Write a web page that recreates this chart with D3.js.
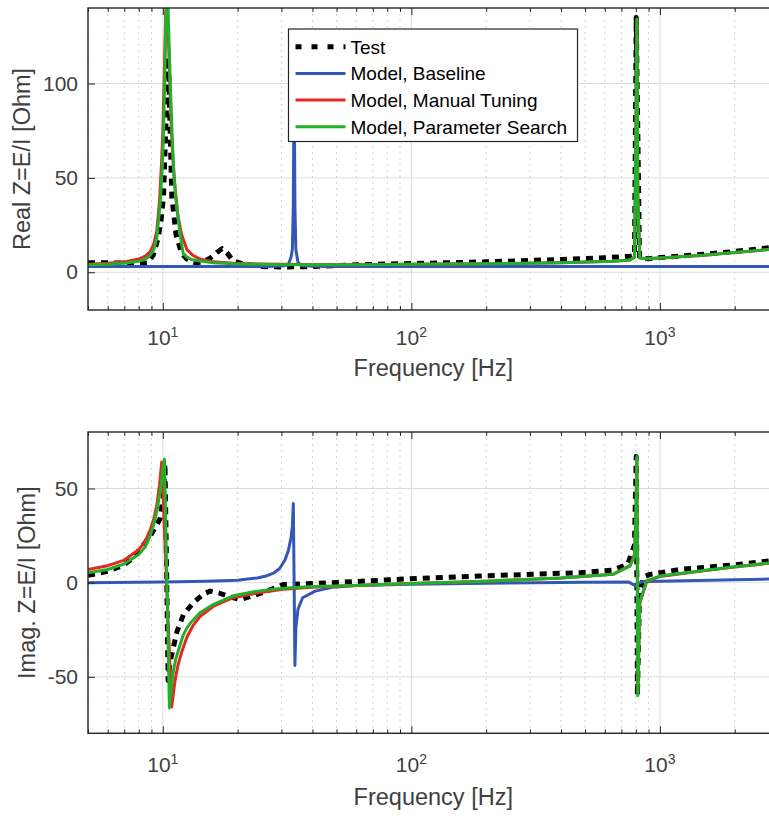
<!DOCTYPE html>
<html>
<head>
<meta charset="utf-8">
<script src="https://cdn.jsdelivr.net/npm/d3@7"></script>
<style>
  body { margin: 0; background: #fff; }
  svg { display: block; font-family: "Liberation Sans", Arial, Helvetica, sans-serif; }
</style>
</head>
<body>
<svg id="chart" width="769" height="816"></svg>
<script>
// ---- data ----
const freqMajor = [10, 100, 1000];
const realTicks = [0, 50, 100];
const imagTicks = [-50, 0, 50];
const legendLabels = ["Test", "Model, Baseline", "Model, Manual Tuning", "Model, Parameter Search"];

const testFreqRe = [5, 6, 7, 8, 8.7, 9.14, 9.57, 9.85, 10.06, 10.3, 10.53, 10.7, 10.87, 11.3, 11.9, 12.5, 13.5, 14.5, 15.5, 16.5, 17.3, 18.2, 19.2, 21, 25, 30, 40, 60, 100, 200, 400, 600, 760, 790, 803, 828, 900, 1000, 1500, 2000, 3000];
const testRe = [5, 5, 4.8, 4.5, 5, 9, 18, 28, 40, 80, 114, 75, 40, 20, 10, 7, 5, 5.5, 7.5, 10.5, 12.5, 10, 6, 4.5, 3, 2.8, 3, 4, 4.6, 5.5, 6.8, 7.7, 8.5, 9, 135, 7.5, 7.2, 7.8, 9.5, 11, 13.5];
const testFreqIm = [5, 6, 7, 7.4, 8.1, 8.89, 9.3, 9.75, 10.06, 10.2, 10.35, 10.5, 10.7, 11.4, 12.1, 13.3, 14.6, 15.5, 16.8, 18.1, 20.4, 23, 26.2, 30.5, 48.5, 90, 189, 477, 647, 742, 790, 803, 812, 828, 860, 912, 1204, 2000, 3000];
const testIm = [3.9, 6, 9.5, 12, 17.7, 24.8, 29, 34, 46, 63, 10, -52, -42, -26, -17, -10.5, -6, -4.5, -5.5, -7, -9, -7, -4.5, -1, 0, 1.8, 3.5, 5.3, 6.7, 9.7, 20, 67, -60, -5, 3, 4.4, 7, 9.5, 12];

const baseFreq = [5, 10, 15, 20, 24, 26, 28, 29.5, 31, 32, 32.8, 33.2, 33.5, 33.75, 34.0, 34.3, 35, 36.5, 41, 48, 60, 100, 200, 500, 750, 800, 815, 850, 1000, 2000, 3000];
const baseRe = [3, 3, 3, 3, 3.05, 3.1, 3.2, 3.3, 3.5, 4.2, 8, 12, 35, 110, 35, 12, 5, 3.5, 3.2, 3.1, 3, 3, 3, 3, 3, 3, 3, 3, 3, 3, 3];
const baseIm = [0, 0.3, 0.7, 1.3, 2.5, 3.5, 5.2, 7.5, 12, 17, 24, 30, 42, 0, -44, -24, -14, -8, -4.5, -2.5, -1.5, -0.8, -0.3, 0.2, 0.3, -1.8, -0.5, 0.6, 0.8, 1.5, 2];

const manualFreq = [5, 6, 7, 8, 8.5, 8.9, 9.2, 9.46, 9.7, 9.9, 10.0, 10.2, 10.35, 10.5, 10.7, 10.85, 11.0, 11.2, 11.5, 11.9, 12.5, 13.2, 14.1, 16, 19.2, 24, 30.5, 40, 60, 100, 200, 400, 647, 757, 790, 800, 808, 815, 830, 884, 1000, 1500, 2000, 3000];
const manualRe = [4.3, 4.8, 5.5, 7, 8.5, 11, 15, 22, 38, 60, 75, 120, 155, 130, 95, 73, 58, 45, 30, 20, 12, 9, 7, 5.5, 4.8, 4.4, 4.2, 4, 4, 4.2, 4.5, 5, 5.8, 6.5, 8, 70, 134, 40, 7.5, 7.2, 7.5, 9, 10.5, 12.5];
const manualIm = [7, 9, 12, 17.5, 22, 28, 34, 41, 52, 64, 50, 22, 1, -20, -46, -66, -60, -52, -44, -37, -29, -23, -18, -12.5, -8, -5.5, -3.5, -2.5, -1.5, -0.5, 0.8, 2.5, 4.4, 9, 15, 35, 66, -58, -11, 0.5, 3.3, 6.3, 8.3, 10.8];

const searchFreq = [5, 6, 7, 8, 8.5, 8.9, 9.2, 9.46, 9.75, 9.95, 10.06, 10.15, 10.25, 10.4, 10.55, 10.63, 10.75, 10.9, 11.1, 11.3, 11.74, 12.07, 12.5, 13, 14.1, 16, 19.2, 24, 30.5, 40, 60, 100, 200, 400, 647, 757, 790, 800, 808, 815, 830, 884, 1000, 1500, 2000, 3000];
const searchRe = [4.0, 4.3, 4.8, 5.8, 6.8, 9, 12, 18, 36, 55, 73, 95, 125, 155, 130, 115, 95, 73, 50, 38, 20, 10, 8, 6.8, 6, 5, 4.5, 4.2, 4, 4, 4, 4.2, 4.5, 5, 5.8, 6.5, 8, 70, 134, 40, 7.5, 7.2, 7.5, 9, 10.5, 12.5];
const searchIm = [5.3, 7, 10, 15, 19, 25, 31, 38, 48, 57, 63, 65.5, 37.5, -4, -45, -66.5, -60, -52, -45, -40, -33, -28, -24, -21, -16, -11.5, -7, -4.5, -3, -2, -1.5, -0.5, 0.8, 2.5, 4.4, 8.8, 14, 35, 67, -60, -10, 1, 3.5, 6.5, 8.5, 11];

// ---- layout ----
const ink = "#262626";
const textInk = "#404040";
const styles = [
  { color: "#000", width: 5, dash: "7,6" },
  { color: "#3457b5", width: 3, dash: null },
  { color: "#e4281f", width: 3, dash: null },
  { color: "#22b02b", width: 3, dash: null }
];

const svg = d3.select("#chart");
const x = d3.scaleLog().domain([5, 3000]).range([88, 778.5]);
const minorX = x.ticks().filter(v => !freqMajor.includes(v));

function drawPanel(p) {
  const y = d3.scaleLinear().domain(p.yDomain).range([p.bottom, p.top]);
  const [x0, x1] = x.range();
  const g = svg.append("g");

  svg.append("clipPath").attr("id", "clip-" + p.name)
    .append("rect").attr("x", x0).attr("y", p.top)
    .attr("width", x1 - x0).attr("height", p.bottom - p.top);

  // grid
  g.append("g").selectAll("line").data(minorX).join("line")
    .attr("x1", d => x(d)).attr("x2", d => x(d))
    .attr("y1", p.top).attr("y2", p.bottom)
    .attr("stroke", "#c2c2c2").attr("stroke-dasharray", "1.5,4.5");
  g.append("g").selectAll("line").data(freqMajor).join("line")
    .attr("x1", d => x(d)).attr("x2", d => x(d))
    .attr("y1", p.top).attr("y2", p.bottom)
    .attr("stroke", "#dcdcdc");
  g.append("g").selectAll("line").data(p.yTicks).join("line")
    .attr("x1", x0).attr("x2", x1)
    .attr("y1", d => y(d)).attr("y2", d => y(d))
    .attr("stroke", "#dcdcdc");

  // curves
  const line = d3.line().x(d => x(d[0])).y(d => y(d[1]));
  const curves = g.append("g").attr("clip-path", `url(#clip-${p.name})`);
  p.series.forEach((s, i) => {
    const st = styles[i];
    curves.append("path")
      .datum(d3.zip(s.f, s.v))
      .attr("d", line)
      .attr("fill", "none")
      .attr("stroke", st.color)
      .attr("stroke-width", st.width)
      .attr("stroke-dasharray", st.dash)
      .attr("stroke-linejoin", "round");
  });

  // frame and ticks
  g.append("rect").attr("x", x0).attr("y", p.top)
    .attr("width", x1 - x0).attr("height", p.bottom - p.top)
    .attr("fill", "none").attr("stroke", ink).attr("stroke-width", 1.4);

  const tickStyle = sel => {
    sel.select(".domain").remove();
    sel.selectAll("line").attr("stroke", ink);
    sel.selectAll("text").attr("fill", textInk).attr("font-size", 21);
  };
  g.append("g").attr("transform", `translate(0,${p.bottom})`)
    .call(d3.axisBottom(x).tickValues(freqMajor).tickSize(-7).tickFormat("")).call(tickStyle);
  g.append("g").attr("transform", `translate(0,${p.bottom})`)
    .call(d3.axisBottom(x).tickValues(minorX).tickSize(-4).tickFormat("")).call(tickStyle);
  g.append("g").attr("transform", `translate(0,${p.top})`)
    .call(d3.axisTop(x).tickValues(freqMajor).tickSize(-7).tickFormat("")).call(tickStyle);
  g.append("g").attr("transform", `translate(0,${p.top})`)
    .call(d3.axisTop(x).tickValues(minorX).tickSize(-4).tickFormat("")).call(tickStyle);
  g.append("g").attr("transform", `translate(${x0},0)`)
    .call(d3.axisLeft(y).tickValues(p.yTicks).tickSize(-7).tickPadding(10).tickFormat(d => String(d)))
    .call(tickStyle);

  // x tick labels 10^n
  const lab = g.append("g").selectAll("text").data(freqMajor).join("text")
    .attr("x", d => x(d)).attr("y", p.xTickY)
    .attr("text-anchor", "middle").attr("font-size", 21).attr("fill", textInk);
  lab.append("tspan").text("10");
  lab.append("tspan").attr("font-size", 14).attr("dy", -8).text(d => Math.round(Math.log10(d)));

  // axis titles
  g.append("text").attr("x", (x0 + x1) / 2).attr("y", p.xLabelY)
    .attr("text-anchor", "middle").attr("font-size", 23.5).attr("fill", textInk)
    .text("Frequency [Hz]");
  g.append("text")
    .attr("transform", `translate(${p.yLabelX},${(p.top + p.bottom) / 2}) rotate(-90)`)
    .attr("text-anchor", "middle").attr("font-size", 23.5).attr("fill", textInk)
    .text(p.yLabel);
}

drawPanel({
  name: "re", top: 8, bottom: 310, yDomain: [-20, 140], yTicks: realTicks,
  xTickY: 345, xLabelY: 376, yLabelX: 30, yLabel: "Real Z=E/I [Ohm]",
  series: [
    { f: testFreqRe, v: testRe },
    { f: baseFreq, v: baseRe },
    { f: manualFreq, v: manualRe },
    { f: searchFreq, v: searchRe }
  ]
});

drawPanel({
  name: "im", top: 432, bottom: 733.3, yDomain: [-80, 80], yTicks: imagTicks,
  xTickY: 772, xLabelY: 805, yLabelX: 35, yLabel: "Imag. Z=E/I [Ohm]",
  series: [
    { f: testFreqIm, v: testIm },
    { f: baseFreq, v: baseIm },
    { f: manualFreq, v: manualIm },
    { f: searchFreq, v: searchIm }
  ]
});

// legend (top panel)
const leg = svg.append("g").attr("transform", "translate(288.5,29)");
leg.append("rect").attr("width", 289).attr("height", 112.5)
  .attr("fill", "#fff").attr("stroke", ink).attr("stroke-width", 1.2);
const item = leg.selectAll(".item").data(legendLabels).join("g")
  .attr("transform", (d, i) => `translate(0,${17.7 + i * 26.7})`);
item.append("line").attr("x1", 7).attr("x2", 57)
  .attr("stroke", (d, i) => styles[i].color)
  .attr("stroke-width", (d, i) => i === 0 ? 5 : 3)
  .attr("stroke-dasharray", (d, i) => i === 0 ? "6,10" : null);
item.append("text").attr("x", 62).attr("y", 6.8)
  .attr("font-size", 19).attr("fill", "#000").text(d => d);
</script>
</body>
</html>
